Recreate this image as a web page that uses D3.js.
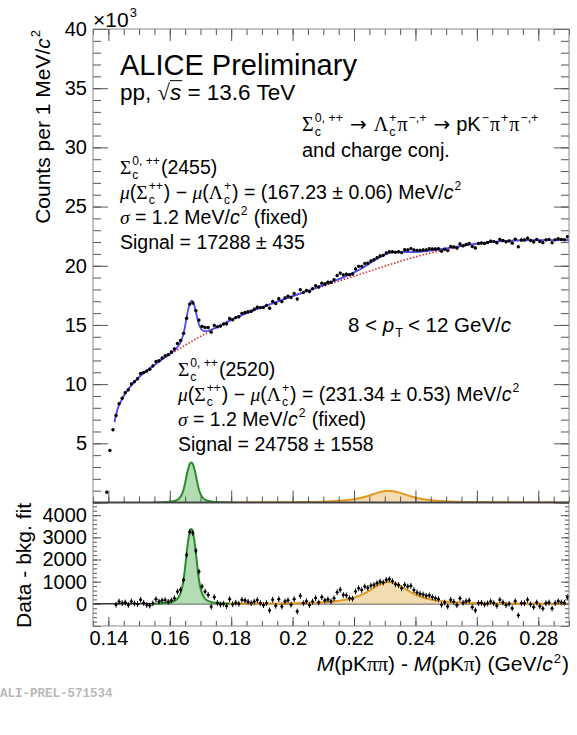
<!DOCTYPE html>
<html>
<head>
<meta charset="utf-8">
<script src="https://cdnjs.cloudflare.com/ajax/libs/d3/7.8.5/d3.min.js"></script>
<style>
  body { margin: 0; background: #fff; }
  text { white-space: pre; }
</style>
</head>
<body>
<div id="vis"></div>
<script>
// histogram binning (1 MeV/c^2 bins)
const binStart = 0.1395;
const binWidth = 0.001;
const residStart = 0.1425;

// counts per bin, top panel (starting at 0.1395)
const topCounts = [870, 4400, 6150,
  7360, 8350, 8810, 9280, 9530, 10010, 10210, 10460, 10900, 10980,
  11100, 11260, 11540, 11910, 11980, 12210, 12400, 12490, 12720, 12980,
  13440, 13680, 14290, 15560, 16760, 16860, 16210, 15410, 14880, 14790,
  14780, 14390, 14960, 14840, 14900, 15070, 15100, 15540, 15440, 15620,
  15690, 15980, 16060, 16110, 16160, 16330, 16500, 16460, 16470, 16650,
  16420, 16990, 16810, 17210, 16970, 17285, 17430, 17320, 17650, 17185,
  17980, 17740, 17920, 17820, 18070, 18320, 18200, 18530, 18460, 18600,
  18600, 18820, 19180, 19380, 19230, 19290, 19250, 19310, 19720, 19950,
  19950, 20190, 20220, 20400, 20520, 20680, 20830, 20880, 21080, 21190,
  21180, 21130, 21180, 21110, 21350, 21340, 21450, 21330, 21300, 21300,
  21340, 21340, 21430, 21410, 21420, 21440, 21235, 21400, 21280, 21630,
  21590, 21490, 21840, 21690, 21800, 21880, 21620, 21510, 21880, 21920,
  21880, 21960, 22080, 22040, 21940, 22230, 22130, 22020, 22100, 21910,
  22240, 21610, 22170, 22170, 22330, 22130, 22010, 22220, 22050, 21950,
  22190, 22220, 21950, 22190, 22280, 22215, 22195, 22450];

// data - bkg. fit, bottom panel (starting at 0.1425)
const residCounts = [-40, 100, 30, 60, -50, 110, 20, -10, 180, 40,
  -50, -80, 20, 210, 100, 150, 170, 90, 150, 250,
  550, 630, 1080, 2200, 3250, 3200, 2400, 1450, 780, 550,
  400, -130, 300, 40, -30, 0, -100, 210, -20, 50,
  0, 180, 150, 90, 30, 100, 170, 30, -60, 30,
  -300, 180, -90, 210, -120, 105, 160, -40, 210, -345,
  360, 30, 120, -60, 100, 260, 60, 300, 150, 200,
  110, 250, 520, 640, 400, 380, 250, 230, 560, 700,
  620, 780, 720, 820, 850, 930, 1000, 960, 1080, 1110,
  1020, 880, 850, 700, 860, 780, 810, 620, 510, 450,
  420, 360, 380, 300, 250, 210, -45, 60, -120, 180,
  90, -60, 240, 50, 120, 150, -150, -300, 30, 40,
  -30, 20, 110, 30, -90, 180, 60, -60, 0, -200,
  120, -520, 30, 30, 180, -20, -150, 60, -110, -210,
  30, 60, -210, 30, 120, 60, 40, 300];
const errHalf = 130;

// fit curves
const bkgX = [0.142, 0.143, 0.144, 0.145, 0.146, 0.147, 0.148, 0.150, 0.152, 0.155, 0.158, 0.161, 0.164,
  0.167, 0.170, 0.175, 0.180, 0.185, 0.190, 0.195, 0.200, 0.205, 0.210, 0.215, 0.220, 0.225, 0.230,
  0.235, 0.240, 0.245, 0.250, 0.255, 0.260, 0.265, 0.270, 0.275, 0.280, 0.285, 0.290];
const bkgY = [6800, 7900, 8500, 9000, 9400, 9750, 10050, 10600, 11050, 11600, 12150, 12650, 13130,
  13590, 14030, 14730, 15400, 15970, 16480, 16950, 17400, 17840, 18270, 18700, 19120, 19540, 19960,
  20370, 20750, 21080, 21370, 21620, 21830, 21990, 22090, 22140, 22160, 22160, 22150];

const totalX = [0.142, 0.143, 0.144, 0.145, 0.146, 0.147, 0.148, 0.150, 0.152, 0.155, 0.158, 0.160,
  0.161, 0.162, 0.163, 0.1635, 0.164, 0.1645, 0.165, 0.1655, 0.166, 0.1665, 0.167, 0.1675, 0.168,
  0.1685, 0.169, 0.1695, 0.170, 0.1705, 0.171, 0.172, 0.173, 0.175, 0.177, 0.180, 0.185, 0.190,
  0.195, 0.200, 0.205, 0.210, 0.213, 0.216, 0.219, 0.221, 0.223, 0.225, 0.227, 0.229, 0.2313, 0.233,
  0.235, 0.237, 0.239, 0.241, 0.243, 0.246, 0.250, 0.255, 0.260, 0.265, 0.270, 0.275, 0.280, 0.285, 0.290];
const totalY = [6800, 7900, 8500, 9000, 9400, 9750, 10050, 10600, 11050, 11610, 12185, 12550,
  12750, 12980, 13300, 13530, 13850, 14310, 14930, 15660, 16290, 16800, 17050, 16980, 16620,
  16110, 15530, 15060, 14750, 14580, 14500, 14480, 14550, 14785, 15035, 15430, 15995, 16500,
  16975, 17435, 17890, 18360, 18670, 18960, 19300, 19550, 19850, 20180, 20510, 20810, 21060, 21160,
  21170, 21160, 21150, 21170, 21210, 21310, 21470, 21675, 21865, 22015, 22107, 22153, 22170, 22168, 22156];

const sig2455X = [0.1545, 0.157, 0.159, 0.161, 0.162, 0.163, 0.1635, 0.164, 0.1645, 0.165, 0.1655,
  0.166, 0.1665, 0.167, 0.1675, 0.168, 0.1685, 0.169, 0.1695, 0.170, 0.1705, 0.171, 0.172, 0.173,
  0.175, 0.177, 0.1795];
const sig2455Y = [10, 25, 45, 100, 170, 330, 480, 720, 1100, 1650, 2300,
  2850, 3250, 3380, 3250, 2850, 2300, 1650, 1100, 720, 480, 330, 170, 100,
  45, 25, 10];

const sig2520X = [0.176, 0.1913, 0.2013, 0.2063, 0.2113, 0.2163, 0.2193, 0.2213, 0.2233, 0.2253,
  0.2273, 0.2293, 0.2313, 0.2333, 0.2353, 0.2373, 0.2393, 0.2413, 0.2433, 0.2463, 0.2513, 0.2563,
  0.2613, 0.2713, 0.2863, 0.290];
const sig2520Y = [8, 17, 32, 50, 85, 160, 250, 340, 460, 620,
  790, 930, 990, 930, 790, 620, 460, 340, 250, 160, 85, 50,
  32, 17, 9, 8];

const xMajor = [0.14, 0.16, 0.18, 0.2, 0.22, 0.24, 0.26, 0.28];

// layout
const W = 577, H = 735;
const L = 93, R = 569, T = 29, MID = 502.5, B = 626;
const SANS = 'Liberation Sans, Arial, Helvetica, sans-serif';
const SERIF = 'Liberation Serif, DejaVu Serif, serif';
const ARROW = 'DejaVu Sans, sans-serif';

const svg = d3.select('#vis').append('svg')
  .attr('width', W).attr('height', H)
  .style('background', '#fff');

const x = d3.scaleLinear().domain([0.135, 0.29]).range([L, R]);
const yTop = d3.scaleLinear().domain([0, 40000]).range([MID, T]);
const yBot = d3.scaleLinear().domain([-1000, 4550]).range([B, 503]);

svg.append('clipPath').attr('id', 'clipTop')
  .append('rect').attr('x', L).attr('y', T).attr('width', R - L).attr('height', MID - T);
svg.append('clipPath').attr('id', 'clipBot')
  .append('rect').attr('x', L).attr('y', 503).attr('width', R - L).attr('height', B - 503);

// little helper for ROOT-like latex text
function rich(parent, x0, y0, tokens, size, rise) {
  const g = parent.append('g');
  const up = rise || 0.46;
  let cx = x0;
  function put(s, px, py, fs, fam, italic) {
    const t = g.append('text').attr('x', px).attr('y', py)
      .attr('font-size', fs)
      .attr('font-family', fam)
      .attr('font-style', italic ? 'italic' : 'normal')
      .attr('fill', '#000').text(s);
    return t.node().getComputedTextLength();
  }
  tokens.forEach(tk => {
    if (tk.gap !== undefined) {
      cx += tk.gap;
    } else if (tk.sub !== undefined || tk.sup !== undefined) {
      const fs = size * 0.62;
      let w1 = 0, w2 = 0;
      if (tk.sub) w1 = put(tk.sub, cx + 1, y0 + size * 0.25, fs, SANS, false);
      if (tk.sup) w2 = put(tk.sup, cx + 1, y0 - size * up, fs, SANS, false);
      cx += Math.max(w1, w2) + 2;
    } else {
      const fam = tk.a ? ARROW : (tk.s ? SERIF : SANS);
      const w = put(tk.t, cx, y0, size, fam, tk.i);
      if (tk.bar) {
        g.append('line').attr('x1', cx).attr('x2', cx + w + 1)
          .attr('y1', y0 - size * 0.86).attr('y2', y0 - size * 0.86)
          .attr('stroke', '#000').attr('stroke-width', 1);
      }
      cx += w;
    }
  });
  return { g: g, width: cx - x0 };
}

// ---------- top panel ----------
const topG = svg.append('g').attr('clip-path', 'url(#clipTop)');

const area = (yS) => d3.area().x(d => x(d[0])).y0(yS(0)).y1(d => yS(d[1])).curve(d3.curveMonotoneX);
const line = (yS) => d3.line().x(d => x(d[0])).y(d => yS(d[1])).curve(d3.curveMonotoneX);

const s1 = sig2455X.map((v, i) => [v, sig2455Y[i]]);
const s2 = sig2520X.map((v, i) => [v, sig2520Y[i]]);
const bk = bkgX.map((v, i) => [v, bkgY[i]]);
const tot = totalX.map((v, i) => [v, totalY[i]]);

topG.append('path').datum(s2).attr('d', area(yTop)).attr('fill', '#f3dcb2');
topG.append('path').datum(s2).attr('d', line(yTop)).attr('fill', 'none').attr('stroke', '#e39a1e').attr('stroke-width', 2);
topG.append('path').datum(s1).attr('d', area(yTop)).attr('fill', '#b4dcb4');
topG.append('path').datum(s1).attr('d', line(yTop)).attr('fill', 'none').attr('stroke', '#2a8c2a').attr('stroke-width', 2);

topG.append('path').datum(bk).attr('d', line(yTop)).attr('fill', 'none')
  .attr('stroke', '#e02020').attr('stroke-width', 1.5).attr('stroke-dasharray', '1.5,1.8');
topG.append('path').datum(tot).attr('d', line(yTop)).attr('fill', 'none')
  .attr('stroke', '#4a4aff').attr('stroke-width', 1.8);

const topPts = topCounts.map((c, i) => ({ m: binStart + i * binWidth, c: c }));
const tp = topG.selectAll('.pt').data(topPts).join('g').attr('class', 'pt');
tp.append('line').attr('x1', d => x(d.m)).attr('x2', d => x(d.m))
  .attr('y1', d => yTop(d.c - errHalf)).attr('y2', d => yTop(d.c + errHalf)).attr('stroke', '#000');
tp.append('circle').attr('cx', d => x(d.m)).attr('cy', d => yTop(d.c)).attr('r', 1.7).attr('fill', '#000');

// ---------- bottom panel ----------
const botG = svg.append('g').attr('clip-path', 'url(#clipBot)');
botG.append('line').attr('x1', L).attr('x2', R).attr('y1', yBot(0)).attr('y2', yBot(0))
  .attr('stroke', '#333').attr('stroke-width', 1.5);
botG.append('path').datum(s2).attr('d', area(yBot)).attr('fill', '#f3dcb2');
botG.append('path').datum(s1).attr('d', area(yBot)).attr('fill', '#b4dcb4');
botG.append('path').datum(s2).attr('d', line(yBot)).attr('fill', 'none').attr('stroke', '#e39a1e').attr('stroke-width', 2);
botG.append('path').datum(s1).attr('d', line(yBot)).attr('fill', 'none').attr('stroke', '#2a8c2a').attr('stroke-width', 2);

const botPts = residCounts.map((c, i) => ({ m: residStart + i * binWidth, c: c }));
const bp = botG.selectAll('.rp').data(botPts).join('g').attr('class', 'rp');
bp.append('line').attr('x1', d => x(d.m)).attr('x2', d => x(d.m))
  .attr('y1', d => yBot(d.c - errHalf)).attr('y2', d => yBot(d.c + errHalf)).attr('stroke', '#000');
bp.append('line').attr('x1', d => x(d.m - binWidth / 2)).attr('x2', d => x(d.m + binWidth / 2))
  .attr('y1', d => yBot(d.c)).attr('y2', d => yBot(d.c)).attr('stroke', '#000');
bp.append('circle').attr('cx', d => x(d.m)).attr('cy', d => yBot(d.c)).attr('r', 1.4).attr('fill', '#000');

// ---------- axes ----------
function ticks(axis, tr) {
  const g = svg.append('g').attr('transform', tr).attr('color', '#555').call(axis);
  g.select('.domain').remove();
  return g;
}
const xMinor = d3.range(27, 59).map(k => k * 0.005);
const yTopMinor = d3.range(0, 41).map(k => k * 1000);
const yTopMajor = d3.range(0, 9).map(k => k * 5000);
const yBotMinor = d3.range(-5, 23).map(k => k * 200);
const yBotMajor = [-1000, 0, 1000, 2000, 3000, 4000];

// top panel ticks
ticks(d3.axisRight(yTop).tickValues(yTopMinor).tickSize(8).tickFormat(''), `translate(${L},0)`);
ticks(d3.axisRight(yTop).tickValues(yTopMajor).tickSize(15).tickFormat(''), `translate(${L},0)`);
ticks(d3.axisLeft(yTop).tickValues(yTopMinor).tickSize(8).tickFormat(''), `translate(${R},0)`);
ticks(d3.axisLeft(yTop).tickValues(yTopMajor).tickSize(15).tickFormat(''), `translate(${R},0)`);
ticks(d3.axisTop(x).tickValues(xMinor).tickSize(6).tickFormat(''), `translate(0,${MID})`);
ticks(d3.axisTop(x).tickValues(xMajor).tickSize(12).tickFormat(''), `translate(0,${MID})`);
ticks(d3.axisBottom(x).tickValues(xMinor).tickSize(6).tickFormat(''), `translate(0,${T})`);
ticks(d3.axisBottom(x).tickValues(xMajor).tickSize(12).tickFormat(''), `translate(0,${T})`);

const topLab = ticks(d3.axisLeft(yTop).tickValues(yTopMajor.slice(1)).tickSize(0).tickPadding(6)
  .tickFormat(d => d / 1000), `translate(${L},0)`);
topLab.attr('font-size', 20).attr('font-family', SANS).selectAll('text').attr('fill', '#000');

// bottom panel ticks
ticks(d3.axisRight(yBot).tickValues(yBotMinor).tickSize(4).tickFormat(''), `translate(${L},0)`);
ticks(d3.axisRight(yBot).tickValues(yBotMajor).tickSize(8).tickFormat(''), `translate(${L},0)`);
ticks(d3.axisLeft(yBot).tickValues(yBotMinor).tickSize(4).tickFormat(''), `translate(${R},0)`);
ticks(d3.axisLeft(yBot).tickValues(yBotMajor).tickSize(8).tickFormat(''), `translate(${R},0)`);
ticks(d3.axisTop(x).tickValues(xMinor).tickSize(5).tickFormat(''), `translate(0,${B})`);
ticks(d3.axisTop(x).tickValues(xMajor).tickSize(9).tickFormat(''), `translate(0,${B})`);

const botLab = ticks(d3.axisLeft(yBot).tickValues([0, 1000, 2000, 3000, 4000]).tickSize(0).tickPadding(6)
  .tickFormat(d3.format('d')), `translate(${L},0)`);
botLab.attr('font-size', 20).attr('font-family', SANS).selectAll('text').attr('fill', '#000');
const xLab = ticks(d3.axisBottom(x).tickValues(xMajor).tickSize(0).tickPadding(5)
  .tickFormat(d => String(+d.toFixed(2))), `translate(0,${B})`);
xLab.attr('font-size', 20).attr('font-family', SANS).selectAll('text').attr('fill', '#000');

// frames
svg.append('rect').attr('x', L).attr('y', T).attr('width', R - L).attr('height', MID - T)
  .attr('fill', 'none').attr('stroke', '#888').attr('stroke-width', 1);
svg.append('rect').attr('x', L).attr('y', MID).attr('width', R - L).attr('height', B - MID)
  .attr('fill', 'none').attr('stroke', '#888').attr('stroke-width', 1);
svg.append('line').attr('x1', L).attr('x2', R).attr('y1', MID).attr('y2', MID)
  .attr('stroke', '#444').attr('stroke-width', 1.8);

// ---------- texts ----------
rich(svg, L, 27, [{ t: '×10' }, { sup: '3' }], 21);

const yt = rich(svg, 0, 0, [{ t: 'Counts per 1 MeV/' }, { t: 'c', i: true }, { sup: '2' }], 21);
yt.g.attr('transform', `translate(50,${T}) rotate(-90) translate(${-yt.width},0)`);
const yb = rich(svg, 0, 0, [{ t: 'Data - bkg. fit' }], 21);
yb.g.attr('transform', `translate(31,503) rotate(-90) translate(${-yb.width},0)`);
const xt = rich(svg, 0, 0, [{ t: 'M', i: true }, { t: '(pK' }, { t: 'ππ', s: true }, { t: ') - ' },
  { t: 'M', i: true }, { t: '(pK' }, { t: 'π', s: true }, { t: ') (GeV/' }, { t: 'c', i: true },
  { sup: '2' }, { t: ')' }], 21, 0.4);
xt.g.attr('transform', `translate(${R - xt.width},671)`);

rich(svg, 120, 75, [{ t: 'ALICE Preliminary' }], 29);
rich(svg, 120, 100, [{ t: 'pp, ' }, { t: '√', s: true }, { t: 's', i: true, bar: true }, { t: ' = 13.6 TeV' }], 22.5);

rich(svg, 302, 131, [{ t: 'Σ', s: true }, { sub: 'c', sup: '0, ++' }, { gap: 6 }, { t: '→', a: true }, { gap: 7 },
  { t: 'Λ', s: true }, { sub: 'c', sup: '+' }, { t: 'π', s: true }, { sup: '−,+' }, { gap: 6 }, { t: '→', a: true },
  { gap: 6 }, { t: 'pK' }, { sup: '−' }, { t: 'π', s: true }, { sup: '+' }, { t: 'π', s: true }, { sup: '−,+' }], 20);
rich(svg, 302, 157, [{ t: 'and charge conj.' }], 20);

function block(x0, y0, name, mu, sig) {
  const fs = 19.5, dy = 25;
  rich(svg, x0, y0, [{ t: 'Σ', s: true }, { sub: 'c', sup: '0, ++' }, { t: name }], fs);
  rich(svg, x0, y0 + dy, [{ t: 'μ', s: true, i: true }, { t: '(' }, { t: 'Σ', s: true }, { sub: 'c', sup: '++' },
    { t: ') − ' }, { t: 'μ', s: true, i: true }, { t: '(' }, { t: 'Λ', s: true }, { sub: 'c', sup: '+' },
    { t: ') = ' + mu + ' MeV/' }, { t: 'c', i: true }, { sup: '2' }], fs);
  rich(svg, x0, y0 + 2 * dy, [{ t: 'σ', s: true, i: true }, { t: ' = 1.2 MeV/' }, { t: 'c', i: true },
    { sup: '2' }, { t: ' (fixed)' }], fs);
  rich(svg, x0, y0 + 3 * dy, [{ t: sig }], fs);
}
block(120, 174, '(2455)', '(167.23 ± 0.06)', 'Signal = 17288 ± 435');
block(178, 376, '(2520)', '(231.34 ± 0.53)', 'Signal = 24758 ± 1558');

rich(svg, 348, 332, [{ t: '8 < ' }, { t: 'p', i: true }, { sub: 'T' }, { gap: 4 }, { t: '< 12 GeV/' }, { t: 'c', i: true }], 20.5);

svg.append('text').attr('x', 0).attr('y', 697)
  .attr('font-family', 'Liberation Mono, Courier New, monospace').attr('font-size', 12.5)
  .attr('font-weight', 'bold').attr('fill', '#b8b8b8').text('ALI-PREL-571534');
</script>
</body>
</html>
